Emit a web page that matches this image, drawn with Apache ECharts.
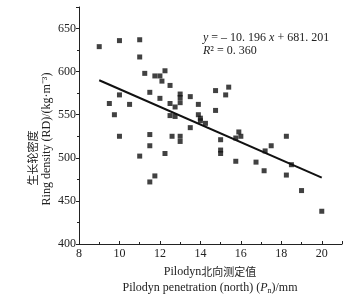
<!DOCTYPE html>
<html>
<head>
<meta charset="utf-8">
<script src="https://cdn.jsdelivr.net/npm/echarts@6/dist/echarts.min.js"></script>
<style>
    html, body { margin: 0; padding: 0; background: #fff; }
    #main { width: 352px; height: 304px; }
</style>
</head>
<body>
<div id="main"></div>
<script>
    // Pilodyn north penetration (mm) vs ring density (kg/m3)
    var pilodynN = [9.0, 9.5, 9.75, 10.0, 10.0, 10.0, 10.5, 11.0, 11.0, 11.0,
        11.25, 11.5, 11.5, 11.5, 11.5, 11.75, 11.75, 12.0, 12.0, 12.1,
        12.25, 12.25, 12.5, 12.5, 12.5, 12.6, 12.75, 12.75, 13.0, 13.0,
        13.0, 13.0, 13.0, 13.5, 13.5, 13.9, 13.9, 14.0, 14.0, 14.25,
        14.75, 14.75, 15.0, 15.0, 15.0, 15.25, 15.4, 15.75, 15.75, 15.9,
        16.0, 16.75, 17.15, 17.2, 17.5, 18.25, 18.25, 18.5, 19.0, 20.0];
    var ringDensity = [629, 563, 550, 636, 573, 525, 562, 637, 617, 502,
        598, 576, 527, 514, 472, 595, 479, 595, 569, 589,
        601, 505, 584, 563, 549, 525, 559, 548, 574, 570,
        564, 525, 519, 571, 535, 562, 550, 546, 543, 540,
        578, 555, 521, 509, 505, 573, 582, 523, 496, 530,
        525, 495, 485, 508, 514, 525, 480, 492, 462, 438];
    // fitted line ends as drawn
    var fitX = [9, 20];
    var fitY = [590, 477];

    var serif = '"Liberation Serif", "Times New Roman", serif';
    var cjk = '"Noto Sans CJK SC", sans-serif';

    var points = [];
    for (var i = 0; i < pilodynN.length; i++) {
        points.push([pilodynN[i], ringDensity[i]]);
    }
    var fitLine = [];
    for (var j = 0; j < fitX.length; j++) {
        fitLine.push([fitX[j], fitY[j]]);
    }

    var myChart = echarts.init(document.getElementById('main'));
    var option = {
        backgroundColor: '#fff',
        animation: false,
        grid: {
            left: 79,
            right: 10,
            top: 7,
            bottom: 60
        },
        xAxis: {
            type: 'value',
            min: 8,
            max: 21,
            interval: 2,
            axisLine: { lineStyle: { color: '#222', width: 1 } },
            axisTick: { inside: true, length: 3, lineStyle: { color: '#222' } },
            minorTick: { show: true, splitNumber: 2, length: 2, lineStyle: { color: '#222' } },
            axisLabel: {
                color: '#222',
                fontFamily: serif,
                fontSize: 12,
                margin: 4,
                showMaxLabel: false
            },
            splitLine: { show: false }
        },
        yAxis: {
            type: 'value',
            min: 400,
            max: 675,
            interval: 50,
            axisLine: { show: true, lineStyle: { color: '#222', width: 1 } },
            axisTick: { show: true, length: 3, lineStyle: { color: '#222' } },
            minorTick: { show: true, splitNumber: 2, length: 2, lineStyle: { color: '#222' } },
            axisLabel: {
                color: '#222',
                fontFamily: serif,
                fontSize: 12,
                margin: 3,
                showMaxLabel: false
            },
            splitLine: { show: false }
        },
        graphic: [{
            type: 'text',
            left: 203,
            top: 32,
            style: {
                text: '{i|y} = – 10. 196 {i|x} + 681. 201',
                font: '12px ' + serif,
                fill: '#222',
                rich: { i: { fontStyle: 'italic', fontFamily: serif, fontSize: 12 } }
            }
        }, {
            type: 'text',
            left: 203,
            top: 45,
            style: {
                text: '{i|R}² = 0. 360',
                font: '12px ' + serif,
                fill: '#222',
                rich: { i: { fontStyle: 'italic', fontFamily: serif, fontSize: 12 } }
            }
        }, {
            type: 'text',
            x: 33,
            y: 158,
            rotation: Math.PI / 2,
            style: {
                text: '生长轮密度',
                font: '11px ' + cjk,
                fill: '#222',
                align: 'center',
                verticalAlign: 'middle'
            }
        }, {
            type: 'text',
            x: 47,
            y: 139,
            rotation: Math.PI / 2,
            style: {
                text: 'Ring density (RD)/(kg·m⁻³)',
                font: '12px ' + serif,
                fill: '#222',
                align: 'center',
                verticalAlign: 'middle'
            }
        }, {
            type: 'text',
            x: 210,
            y: 272,
            style: {
                text: '{e|Pilodyn}{c|北向测定值}',
                font: '12px ' + serif,
                fill: '#222',
                align: 'center',
                verticalAlign: 'middle',
                rich: {
                    e: { fontFamily: serif, fontSize: 12 },
                    c: { fontFamily: cjk, fontSize: 11 }
                }
            }
        }, {
            type: 'text',
            x: 210,
            y: 288,
            style: {
                text: 'Pilodyn penetration (north) ({i|P}{s|n})/mm',
                font: '12px ' + serif,
                fill: '#222',
                align: 'center',
                verticalAlign: 'middle',
                rich: {
                    i: { fontStyle: 'italic', fontFamily: serif, fontSize: 12 },
                    s: { fontFamily: serif, fontSize: 8, padding: [5, 0, 0, 0] }
                }
            }
        }],
        series: [{
            name: 'points',
            type: 'scatter',
            symbol: 'rect',
            symbolSize: 5,
            itemStyle: { color: '#111' },
            data: points
        }, {
            name: 'fit',
            type: 'line',
            symbol: 'none',
            lineStyle: { color: '#111', width: 2 },
            data: fitLine
        }]
    };
    myChart.setOption(option);
</script>
</body>
</html>
